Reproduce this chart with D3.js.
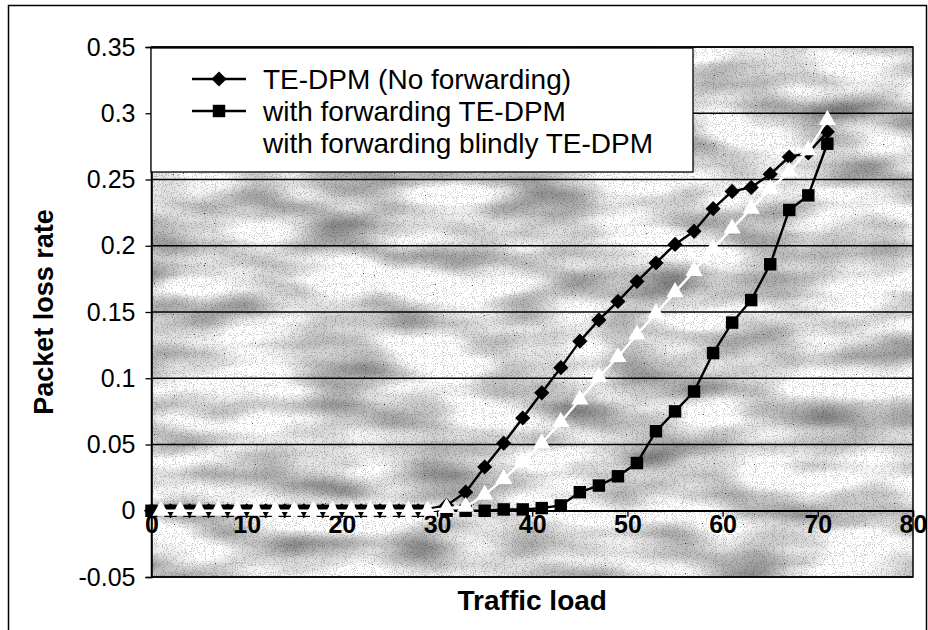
<!DOCTYPE html>
<html>
<head>
<meta charset="utf-8">
<script src="https://cdn.jsdelivr.net/npm/d3@7"></script>
<style>
    body { margin: 0; background: #fff; }
    svg text { font-family: Arial, "Liberation Sans", sans-serif; fill: #000; }
</style>
</head>
<body>
<div id="chart"></div>
<script>
// traffic load (x) for the two black series, and for the white one
var loadBlack = [0, 2, 4, 6, 8, 10, 12, 14, 16, 18, 20, 22, 24, 26, 28,
    31, 33, 35, 37, 39, 41, 43, 45, 47, 49, 51, 53, 55, 57, 59, 61, 63, 65, 67, 69, 71];
var loadWhite = [1, 3, 5, 7, 9, 11, 13, 15, 17, 19, 21, 23, 25, 27, 29,
    31, 33, 35, 37, 39, 41, 43, 45, 47, 49, 51, 53, 55, 57, 59, 61, 63, 65, 67, 69, 71];

// packet loss rate
var lossNoForwarding = [0, 0, 0, 0, 0, 0, 0, 0, 0, 0, 0, 0, 0, 0, 0,
    0.004, 0.014, 0.033, 0.051, 0.070, 0.089, 0.108, 0.128, 0.144, 0.158, 0.173,
    0.187, 0.201, 0.211, 0.228, 0.241, 0.244, 0.254, 0.267, 0.270, 0.286];
var lossForwarding = [0, 0, 0, 0, 0, 0, 0, 0, 0, 0, 0, 0, 0, 0, 0,
    0, 0, 0, 0.001, 0.001, 0.002, 0.004, 0.014, 0.019, 0.026, 0.036,
    0.060, 0.075, 0.090, 0.119, 0.142, 0.159, 0.186, 0.227, 0.238, 0.277];
var lossBlindly = [0, 0, 0, 0, 0, 0, 0, 0, 0, 0, 0, 0, 0, 0, 0,
    0.002, 0.003, 0.012, 0.024, 0.037, 0.051, 0.067, 0.084, 0.101, 0.116, 0.133,
    0.149, 0.165, 0.181, 0.198, 0.213, 0.228, 0.243, 0.256, 0.272, 0.295];

var seriesNames = ["TE-DPM (No forwarding)", "with forwarding TE-DPM", "with forwarding blindly TE-DPM"];

var xTickValues = [0, 10, 20, 30, 40, 50, 60, 70, 80];
var yTickValues = [-0.05, 0, 0.05, 0.1, 0.15, 0.2, 0.25, 0.3, 0.35];
var yTickLabels = ["-0.05", "0", "0.05", "0.1", "0.15", "0.2", "0.25", "0.3", "0.35"];


function LossChart() {
    var self = this;
    self.init();
}

LossChart.prototype.init = function () {
    var self = this;

    self.width = 928;
    self.height = 630;
    self.plot = { left: 151.5, right: 913, top: 47, bottom: 577 };

    self.svg = d3.select("#chart").append("svg")
        .attr("width", self.width)
        .attr("height", self.height);

    // scanned paper look for the plot area
    var defs = self.svg.append("defs");
    var f = defs.append("filter").attr("id", "scan")
        .attr("x", 0).attr("y", 0).attr("width", 1).attr("height", 1)
        .attr("color-interpolation-filters", "sRGB");
    f.append("feTurbulence").attr("type", "fractalNoise")
        .attr("baseFrequency", "0.01 0.03").attr("numOctaves", 2).attr("seed", 5).attr("result", "blot");
    f.append("feColorMatrix").attr("in", "blot").attr("type", "matrix")
        .attr("values", "1 0 0 0 0  1 0 0 0 0  1 0 0 0 0  0 0 0 0 1").attr("result", "blotGray");
    var ct = f.append("feComponentTransfer").attr("in", "blotGray").attr("result", "base");
    ["feFuncR", "feFuncG", "feFuncB"].forEach(function (n) {
        ct.append(n).attr("type", "linear").attr("slope", 1.0).attr("intercept", 0.36);
    });
    f.append("feTurbulence").attr("type", "fractalNoise")
        .attr("baseFrequency", "0.9").attr("numOctaves", 1).attr("seed", 2).attr("result", "grain");
    f.append("feColorMatrix").attr("in", "grain").attr("type", "matrix")
        .attr("values", "1 0 0 0 0  1 0 0 0 0  1 0 0 0 0  0 0 0 0 1").attr("result", "grainGray");
    var gt = f.append("feComponentTransfer").attr("in", "grainGray").attr("result", "speck");
    ["feFuncR", "feFuncG", "feFuncB"].forEach(function (n) {
        gt.append(n).attr("type", "discrete").attr("tableValues", "0.3 0.82 1 1 1");
    });
    f.append("feBlend").attr("in", "base").attr("in2", "speck").attr("mode", "multiply");

    var xScale = d3.scaleLinear().domain([0, 80]).range([self.plot.left, self.plot.right]);
    var yScale = d3.scaleLinear().domain([-0.05, 0.35]).range([self.plot.bottom, self.plot.top]);

    // outer chart frame
    self.svg.append("rect")
        .attr("x", 8.5).attr("y", 5.5)
        .attr("width", 918).attr("height", 640)
        .attr("fill", "#fff").attr("stroke", "#000").attr("stroke-width", 1.5);

    // plot area
    self.svg.append("rect")
        .attr("x", self.plot.left).attr("y", self.plot.top)
        .attr("width", self.plot.right - self.plot.left)
        .attr("height", self.plot.bottom - self.plot.top)
        .attr("fill", "#ccc")
        .attr("filter", "url(#scan)");

    // gridlines
    self.svg.append("g").selectAll("line").data(yTickValues).enter().append("line")
        .attr("x1", self.plot.left).attr("x2", self.plot.right)
        .attr("y1", function (d) { return yScale(d); })
        .attr("y2", function (d) { return yScale(d); })
        .attr("stroke", "#000").attr("stroke-width", 1.3);

    self.svg.append("rect")
        .attr("x", self.plot.left).attr("y", self.plot.top)
        .attr("width", self.plot.right - self.plot.left)
        .attr("height", self.plot.bottom - self.plot.top)
        .attr("fill", "none").attr("stroke", "#000").attr("stroke-width", 1.5);

    // y axis on the left
    var yAxis = d3.axisLeft(yScale)
        .tickValues(yTickValues)
        .tickFormat(function (d, i) { return yTickLabels[i]; })
        .tickSize(6).tickPadding(10);
    var yg = self.svg.append("g")
        .attr("transform", "translate(" + self.plot.left + ",0)")
        .call(yAxis);
    yg.select(".domain").attr("stroke", "#000").attr("stroke-width", 1.5);
    yg.selectAll(".tick line").attr("stroke", "#000").attr("stroke-width", 1.3);
    yg.selectAll("text").style("font-size", "25px").attr("fill", "#000");

    // x axis crosses at zero
    var xAxis = d3.axisBottom(xScale)
        .tickValues(xTickValues)
        .tickFormat(d3.format("d"))
        .tickSize(6).tickPadding(-2);
    var xg = self.svg.append("g")
        .attr("transform", "translate(0," + yScale(0) + ")")
        .call(xAxis);
    xg.select(".domain").attr("stroke", "#000").attr("stroke-width", 1.5);
    xg.selectAll(".tick line").attr("stroke", "#000").attr("stroke-width", 1.3);
    xg.selectAll("text").style("font-size", "25px").style("font-weight", "bold").attr("fill", "#000");

    // series
    var series = [
        { name: seriesNames[0], x: loadBlack, y: lossNoForwarding, color: "#000", shape: "diamond" },
        { name: seriesNames[1], x: loadBlack, y: lossForwarding, color: "#000", shape: "square" },
        { name: seriesNames[2], x: loadWhite, y: lossBlindly, color: "#fff", shape: "triangle" }
    ];

    var symbolPath = function (shape) {
        if (shape == "diamond") return d3.symbol(d3.symbolSquare, 115)();
        if (shape == "square") return d3.symbol(d3.symbolSquare, 155)();
        return d3.symbol(d3.symbolTriangle, 130)();
    };

    var lineGenerator = d3.line()
        .x(function (d) { return xScale(d[0]); })
        .y(function (d) { return yScale(d[1]); });

    series.forEach(function (s) {
        var pts = s.x.map(function (v, i) { return [v, s.y[i]]; });
        var g = self.svg.append("g");
        g.append("path").datum(pts)
            .attr("d", lineGenerator)
            .attr("fill", "none").attr("stroke", s.color).attr("stroke-width", 2.4);
        g.selectAll("path.mark").data(pts).enter().append("path")
            .attr("class", "mark")
            .attr("d", symbolPath(s.shape))
            .attr("fill", s.color)
            .attr("transform", function (d) {
                var t = "translate(" + xScale(d[0]) + "," + yScale(d[1]) + ")";
                return s.shape == "diamond" ? t + " rotate(45)" : t;
            });
    });

    // legend
    var legend = self.svg.append("g");
    legend.append("rect")
        .attr("x", 151).attr("y", 48).attr("width", 542).attr("height", 124)
        .attr("fill", "#fff").attr("stroke", "#000").attr("stroke-width", 1.3);
    var rows = legend.selectAll("g.row").data(series).enter().append("g")
        .attr("class", "row")
        .attr("transform", function (d, i) { return "translate(0," + (79 + i * 32) + ")"; });
    rows.append("line")
        .attr("x1", 192).attr("x2", 246)
        .attr("stroke", function (d) { return d.color; }).attr("stroke-width", 2.4);
    rows.append("path")
        .attr("d", function (d) { return symbolPath(d.shape); })
        .attr("fill", function (d) { return d.color; })
        .attr("transform", function (d) { return "translate(219,0)" + (d.shape == "diamond" ? " rotate(45)" : ""); });
    rows.append("text")
        .attr("x", 263).attr("dy", "0.35em")
        .style("font-size", "28px")
        .text(function (d) { return d.name; });

    // axis titles
    self.svg.append("text")
        .attr("transform", "translate(44," + ((self.plot.top + self.plot.bottom) / 2) + ") rotate(-90)")
        .attr("text-anchor", "middle").attr("dy", "0.35em")
        .style("font-size", "27px").style("font-weight", "bold")
        .text("Packet loss rate");
    self.svg.append("text")
        .attr("x", (self.plot.left + self.plot.right) / 2).attr("y", 600)
        .attr("text-anchor", "middle").attr("dy", "0.35em")
        .style("font-size", "28px").style("font-weight", "bold")
        .text("Traffic load");
};

new LossChart();
</script>
</body>
</html>
